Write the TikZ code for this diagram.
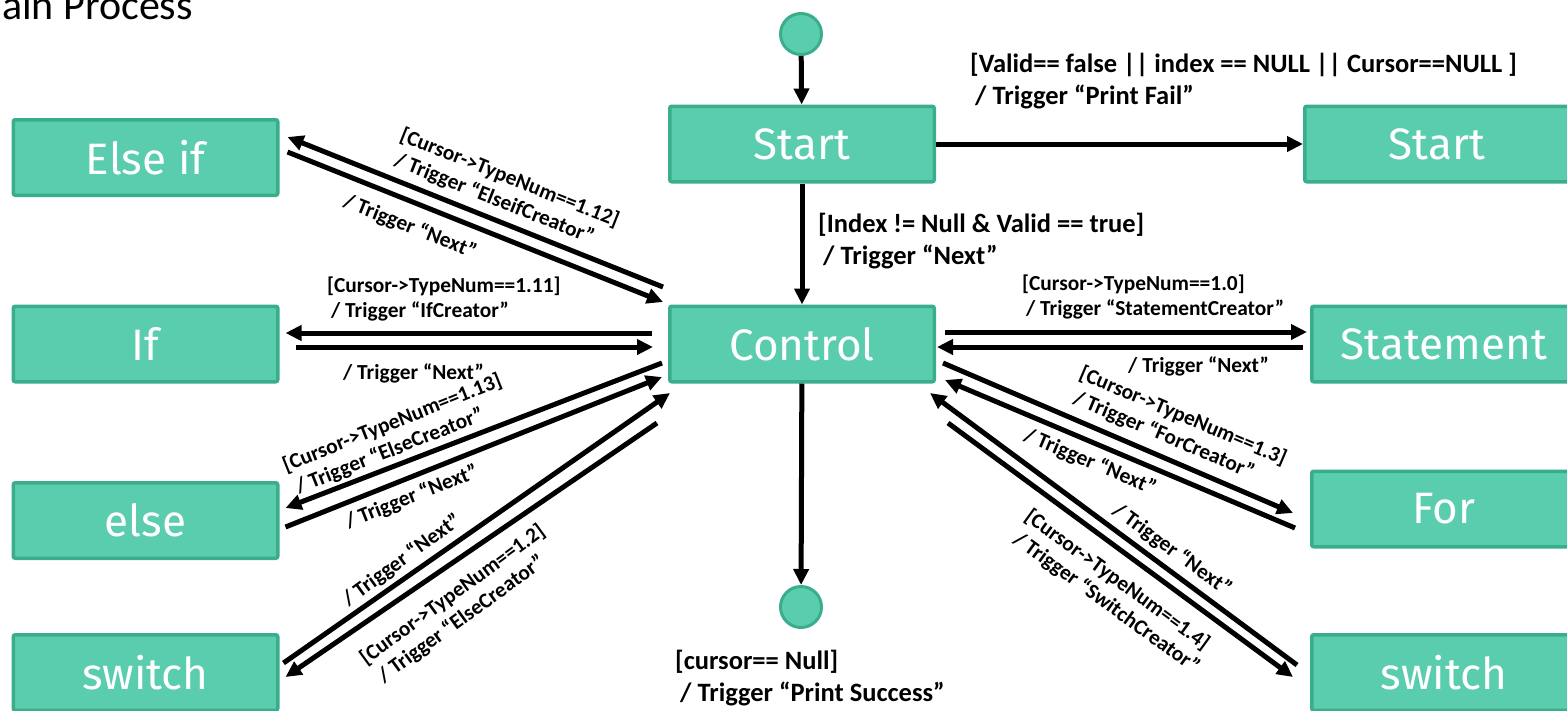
\documentclass[tikz,border=0pt]{standalone}
\usepackage{fontspec}
\setmainfont{Carlito}
\newfontfamily\nodefont{Fira Sans}
\usetikzlibrary{arrows.meta,calc}
\definecolor{tfill}{RGB}{91,205,175}
\definecolor{tborder}{RGB}{58,174,140}
\tikzset{
  state/.style={draw=tborder, line width=3.5pt, fill=tfill, rounded corners=2pt,
    minimum width=264.5pt, minimum height=75.5pt, inner sep=0pt, text=white,
    font=\nodefont\fontsize{44}{50}\selectfont},
  ini/.style={circle, draw=tborder, line width=3pt, fill=tfill, minimum size=41pt, inner sep=0pt},
  arr/.style={line width=5pt, -{Triangle[length=16pt,width=15pt]}},
  lbl/.style={font=\bfseries\fontsize{21.4}{25}\selectfont, align=left, inner sep=0pt},
  big/.style={font=\bfseries\fontsize{26.5}{32}\selectfont, align=left, inner sep=0pt},
}
\begin{document}
\begin{tikzpicture}[x=1pt,y=-1pt]
\useasboundingbox (0,0) rectangle (1567,710);
\node[anchor=base east, font=\fontsize{42}{48}\selectfont, inner sep=0pt] (title) at (193,19) {Main Process};
% states
\node[ini] (init) at (801,34) {};
\node[state] (start) at (802,144) {Start};
\node[state] (fail) at (1437,144) {Start};
\node[state] (ctrl) at (802,344) {Control};
\node[ini] (final) at (801,607) {};
\node[state] (elseif) at (145.5,157.5) {Else if};
\node[state] (if) at (145.5,344) {If};
\node[state] (else) at (145.5,520.5) {else};
\node[state] (swl) at (145.5,672.5) {switch};
\node[state] (stmt) at (1444,344) {Statement};
\node[state] (for) at (1444,509) {For};
\node[state] (swr) at (1444,672.5) {switch};
% straight arrows
\draw[arr] (init) -- (start);
\draw[arr] (start) -- (fail);
\draw[arr] (start) -- (ctrl);
\draw[arr] (ctrl) -- (final);
% left side
\draw[arr] ($(ctrl.north west)+(-5,-17.5)$) -- ($(elseif.north east)+(8,19)$);
\draw[arr] ($(elseif.north east)+(8,34)$) -- ($(ctrl.north west)+(-5,-2.5)$);
\draw[arr] ($(ctrl.west)+(-16,-11)$) -- ($(if.east)+(6,-11)$);
\draw[arr] ($(if.east)+(16,3)$) -- ($(ctrl.west)+(-15,3)$);
\draw[arr] ($(ctrl.west)+(-6,19)$) -- ($(else.north east)+(6,27)$);
\draw[arr] ($(else.north east)+(6,46)$) -- ($(ctrl.west)+(-6,33)$);
\draw[arr] ($(swl.north east)+(4,30)$) -- ($(ctrl.south west)+(2,9.5)$);
\draw[arr] ($(ctrl.south west)+(-11,39.5)$) -- ($(swl.north east)+(6,44)$);
% right side
\draw[arr] ($(ctrl.east)+(9,-12)$) -- ($(stmt.west)+(-3,-12)$);
\draw[arr] ($(stmt.west)+(-7,3)$) -- ($(ctrl.east)+(1,3)$);
\draw[arr] ($(ctrl.east)+(7,19)$) -- ($(for.north west)+(-17,43.5)$);
\draw[arr] ($(for.north west)+(-15,58.5)$) -- ($(ctrl.east)+(9,36)$);
\draw[arr] ($(swr.north west)+(-13,32)$) -- ($(ctrl.south east)+(-6,9.5)$);
\draw[arr] ($(ctrl.south east)+(12,39.5)$) -- ($(swr.north west)+(-17,44)$);
% labels
\node[big, anchor=base west] (lfail) at (970,104) {[Valid== false || index == NULL || Cursor==NULL ]\\\hspace{5pt}/ Trigger “Print Fail”};
\node[big, anchor=base west] (lindex) at (818,264) {[Index != Null \& Valid == true]\\\hspace{5pt}/ Trigger “Next”};
\node[big, anchor=base west] (lsucc) at (675,701) {[cursor== Null]\\\hspace{5pt}/ Trigger “Print Success”};
\node[lbl, anchor=base west] (lstmt) at (1022,315) {[Cursor->TypeNum==1.0]\\\hspace{4pt}/ Trigger “StatementCreator”};
\node[lbl, anchor=base west] (lstmtn) at (1128,372) {/ Trigger “Next”};
\node[lbl, anchor=base west] (lif) at (327,317) {[Cursor->TypeNum==1.11]\\\hspace{4pt}/ Trigger “IfCreator”};
\node[lbl, anchor=base west] (lifn) at (343,379) {/ Trigger “Next”};
\node[lbl, rotate=-21.7] (lelseif) at (505,190) {[Cursor->TypeNum==1.12]\\\hspace{4pt}/ Trigger “ElseifCreator”};
\node[lbl, rotate=-21.7] (lelseifn) at (410,227) {/ Trigger “Next”};
\node[lbl, rotate=21.7] (lelse) at (397,435) {[Cursor->TypeNum==1.13]\\\hspace{4pt}/ Trigger “ElseCreator”};
\node[lbl, rotate=21.7] (lelsen) at (412,497) {/ Trigger “Next”};
\node[lbl, rotate=36] (lswln) at (402,560) {/ Trigger “Next”};
\node[lbl, rotate=36] (lswl) at (460,605) {[Cursor->TypeNum==1.2]\\\hspace{4pt}/ Trigger “ElseCreator”};
\node[lbl, rotate=-23] (lfor) at (1178,428) {[Cursor->TypeNum==1.3]\\\hspace{4pt}/ Trigger “ForCreator”};
\node[lbl, rotate=-23] (lforn) at (1090,462) {/ Trigger “Next”};
\node[lbl, rotate=-36] (lswrn) at (1172,550) {/ Trigger “Next”};
\node[lbl, rotate=-36] (lswr) at (1112,592) {[Cursor->TypeNum==1.4]\\\hspace{4pt}/ Trigger “SwitchCreator”};
\end{tikzpicture}
\end{document}
